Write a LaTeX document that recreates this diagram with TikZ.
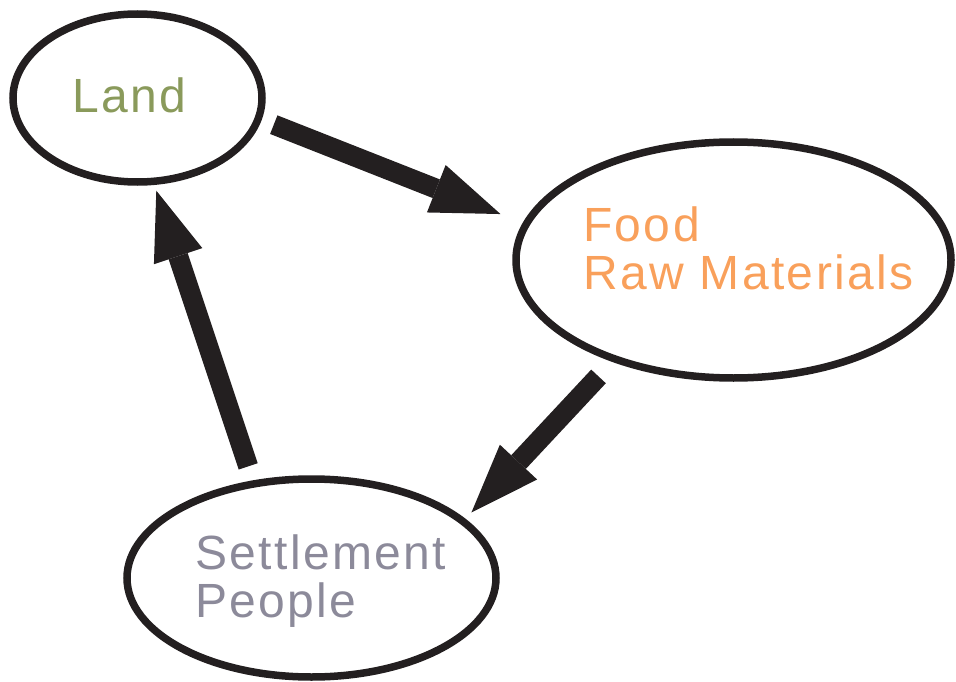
\documentclass[tikz,border=0pt]{standalone}
\usepackage{fontspec}
\newfontfamily\labfont{Liberation Sans}[LetterSpace=5]
\usetikzlibrary{arrows.meta,shapes.geometric}
\definecolor{landcol}{HTML}{8A9A5B}
\definecolor{foodcol}{HTML}{F9A05B}
\definecolor{setcol}{HTML}{8C8A9A}
\definecolor{ink}{HTML}{231F20}
\tikzset{
  ring/.style={draw=ink, line width=7.5pt, ellipse, inner sep=0pt},
  bigarrow/.style={draw=ink, line width=20pt,
    -{Triangle[length=69pt,width=51pt,line width=0pt]}},
  lab/.style={inner sep=0pt, align=left, font=\labfont\fontsize{48}{47.5}\selectfont}
}
\begin{document}
\begin{tikzpicture}[x=1pt,y=-1pt]
\useasboundingbox (0,0) rectangle (956,682);
\node[ring, minimum width=249pt, minimum height=168pt] (land) at (137.5,98) {};
\node[ring, minimum width=435pt, minimum height=236pt] (food) at (733.5,260) {};
\node[ring, minimum width=369pt, minimum height=198pt] (settle) at (311.5,578) {};
\node[lab, text=landcol, anchor=base west] (landtxt) at (72.5,113) {Land};
\node[lab, text=foodcol, anchor=north west] (foodtxt) at (583,207) {Food\\Raw Materials};
\node[lab, text=setcol, anchor=north west] (settxt) at (195,535) {Settlement\\People};
\draw[bigarrow, shorten <=13pt, shorten >=24pt] (land.-10.2) -- (food.170.7);
\draw[bigarrow, shorten <=20pt, shorten >=8.7pt] (food.-140.4) -- (settle.21.6);
\draw[bigarrow, shorten <=14.7pt, shorten >=6pt] (settle.121.4) -- (land.-79.4);
\end{tikzpicture}
\end{document}
